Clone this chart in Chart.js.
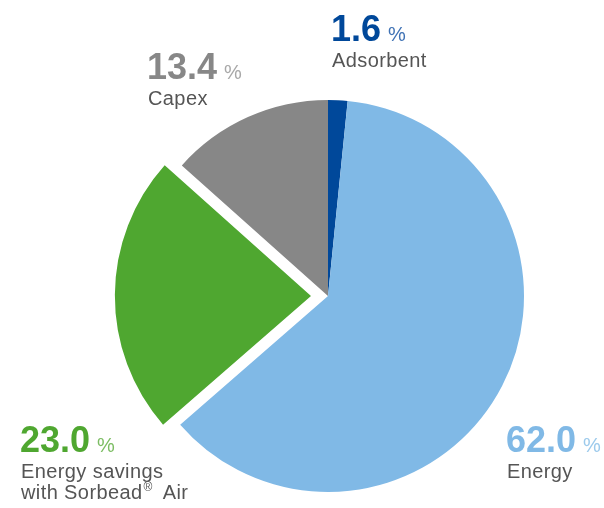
<!DOCTYPE html>
<html>
<head>
<meta charset="utf-8">
<script src="https://cdn.jsdelivr.net/npm/chart.js@4/dist/chart.umd.min.js"></script>
<style>
  html, body { margin: 0; padding: 0; background: #ffffff; }
  canvas { display: block; }
</style>
</head>
<body>
<canvas id="c" width="604" height="508"></canvas>
<script>
// ---- data ----
const categories = ["Adsorbent", "Energy", "Energy savings\nwith Sorbead® Air", "Capex"];
const shares = [1.6, 62.0, 23.0, 13.4];
const sliceColors = ["#00489a", "#80b9e6", "#4fa730", "#878787"];
const percentColors = ["#3f72b5", "#9ccaec", "#7cbd63", "#a8a8a8"];
const explodedSlice = [0, 0, 68, 0];

// label anchor layout (positions only)
const labelLayout = [
  { x: 332, y: 41 },
  { x: 507, y: 452 },
  { x: 21, y: 452 },
  { x: 148, y: 79 }
];

const LABEL_FONT = '20px "Liberation Sans", Arial, sans-serif';
const SUP_FONT = '12px "Liberation Sans", Arial, sans-serif';

function drawLabelLine(ctx, text, x, y) {
  const parts = text.split('®');
  let cx = x;
  parts.forEach((part, idx) => {
    if (idx > 0) {
      ctx.font = SUP_FONT;
      ctx.fillText('®', cx + 1, y - 8);
      cx += ctx.measureText('®').width + 5;
    }
    ctx.font = LABEL_FONT;
    ctx.fillText(part, cx, y);
    cx += ctx.measureText(part).width;
  });
}

const labelPlugin = {
  id: 'sliceLabels',
  afterDraw(chart) {
    const ctx = chart.ctx;
    ctx.save();
    ctx.textBaseline = 'alphabetic';
    ctx.textAlign = 'left';
    shares.forEach((v, i) => {
      const p = labelLayout[i];
      const num = v.toFixed(1);
      ctx.letterSpacing = '0px';
      ctx.font = 'bold 36px "Liberation Sans", Arial, sans-serif';
      ctx.fillStyle = sliceColors[i];
      ctx.fillText(num, p.x - 1, p.y);
      const w = ctx.measureText(num).width;
      ctx.font = '20px "Liberation Sans", Arial, sans-serif';
      ctx.fillStyle = percentColors[i];
      ctx.fillText('%', p.x + w + 6, p.y);
      ctx.fillStyle = '#555555';
      ctx.letterSpacing = '0.4px';
      const lines = categories[i].split('\n');
      lines.forEach((ln, k) => {
        drawLabelLine(ctx, ln, p.x, p.y + 26 + k * 21);
      });
    });
    ctx.restore();
  }
};

new Chart(document.getElementById('c'), {
  type: 'pie',
  data: {
    labels: categories,
    datasets: [{
      data: shares,
      backgroundColor: sliceColors,
      borderWidth: 0,
      offset: explodedSlice
    }]
  },
  options: {
    responsive: false,
    animation: false,
    radius: 196,
    layout: { padding: { left: 112, right: 60, top: 100, bottom: 16 } },
    plugins: {
      legend: { display: false },
      tooltip: { enabled: false }
    }
  },
  plugins: [labelPlugin]
});
</script>
</body>
</html>
